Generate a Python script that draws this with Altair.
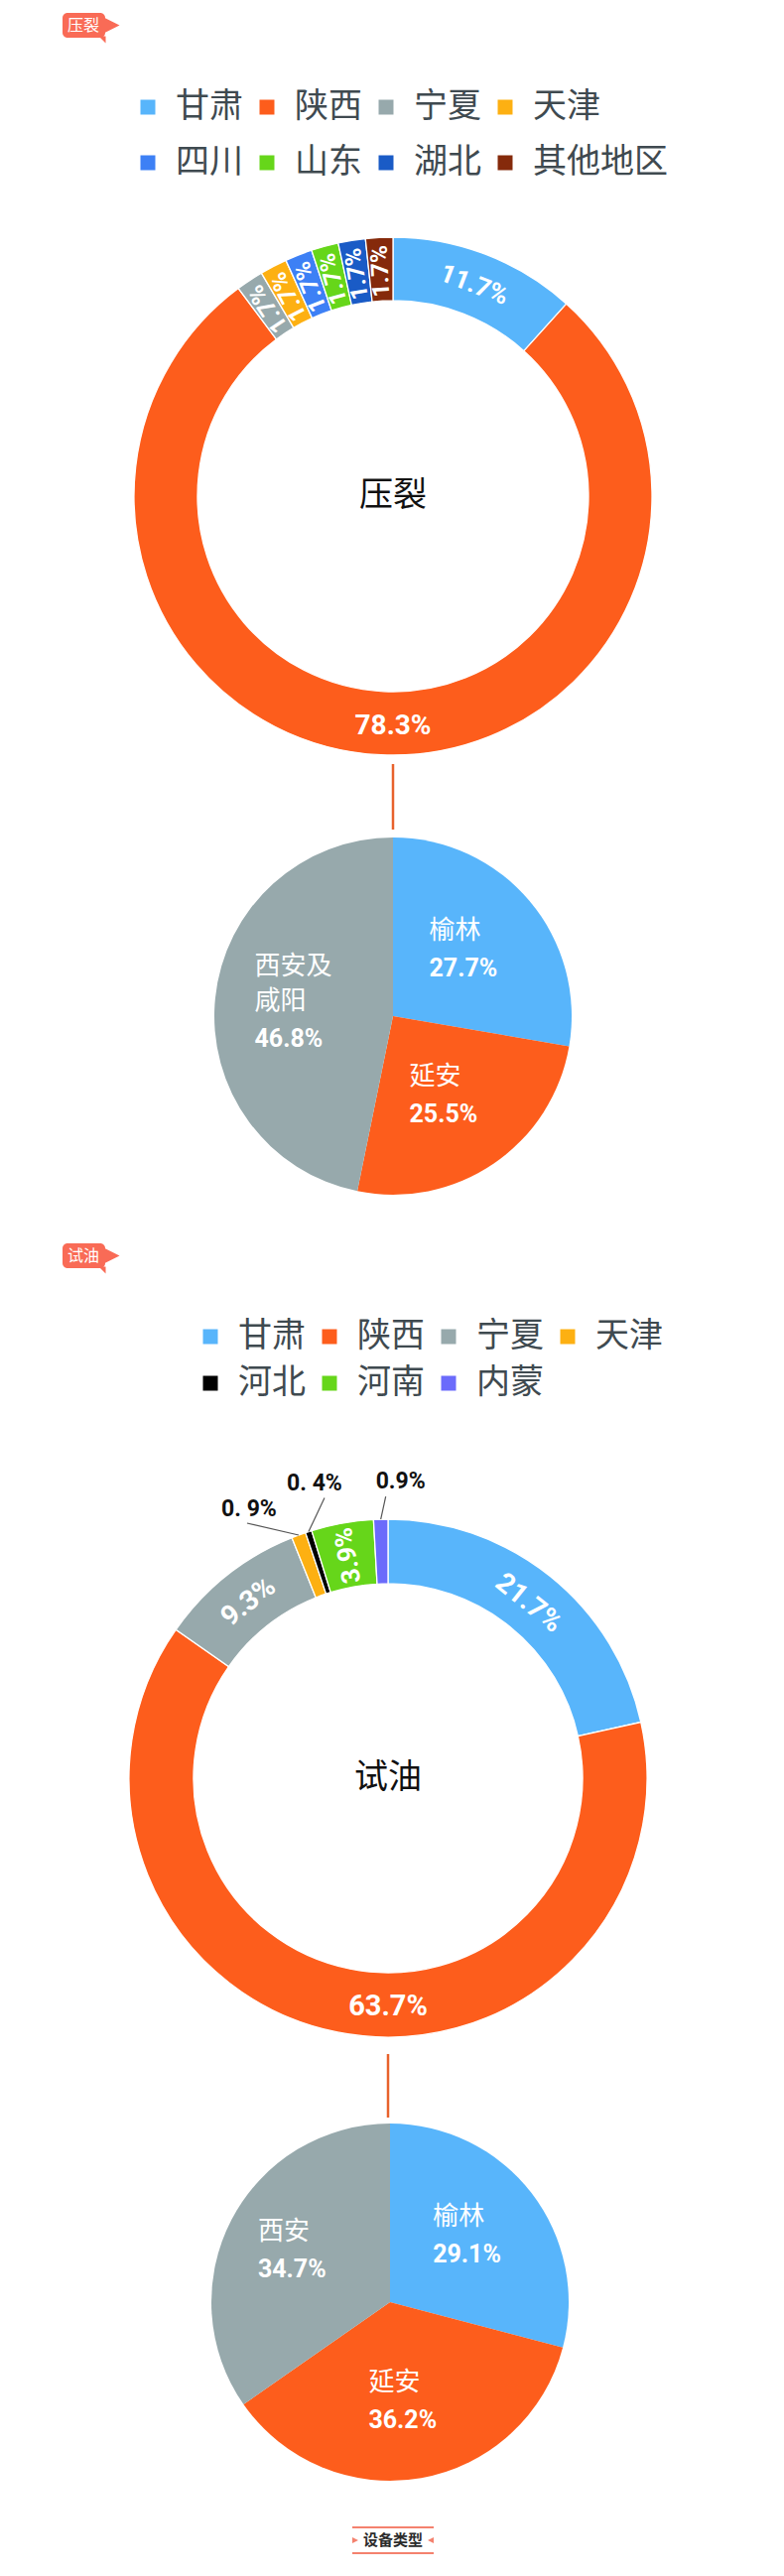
import math
import altair as alt
import pandas as pd

# ---------------- data ----------------
d1_regions = ["甘肃", "陕西", "宁夏", "天津", "四川", "山东", "湖北", "其他地区"]
d1_values = [11.7, 78.3, 1.7, 1.7, 1.7, 1.7, 1.7, 1.7]
d1_colors = ["#58B5FB", "#FD5D1C", "#97A9AC", "#FDB012", "#3D80F5", "#66D61A", "#1A5BC6", "#852A0B"]

p1_cities = ["榆林", "延安", "西安及\n咸阳"]
p1_values = [27.7, 25.5, 46.8]

d2_regions = ["甘肃", "陕西", "宁夏", "天津", "河北", "河南", "内蒙"]
d2_values = [21.7, 63.7, 9.3, 0.9, 0.4, 3.9, 0.9]
d2_labels = ["21.7%", "63.7%", "9.3%", "0. 9%", "0. 4%", "3.9%", "0.9%"]
d2_colors = ["#58B5FB", "#FD5D1C", "#97A9AC", "#FDB012", "#000000", "#66D61A", "#6B6BFB"]

p2_cities = ["榆林", "延安", "西安"]
p2_values = [29.1, 36.2, 34.7]
city_colors = ["#58B5FB", "#FD5D1C", "#97A9AC"]

# ---------------- layout / style ----------------
CJK = "Noto Sans CJK SC"
NUM = "Roboto"
TAG = "#F96B56"
LINE = "#E8622C"
LEG_TXT = "#3F4A50"

D1 = (396, 500); D1_R, D1_r = 261, 197
P1 = (396, 1024); P_R = 180
D2 = (391, 1792); D2_R, D2_r = 261, 196
P2 = (393, 2320)
LH = 35  # line height of city labels

d1_modes = ["tangent", "bottom", "radial", "radial", "radial", "radial", "radial", "radial"]
d2_modes = ["tangent", "bottom", "tangent", "out", "out", "radial", "out"]
# callout layout for tiny slices: (leader end offset, label offset) from slice edge point
callout_layout = {"天津": ((-52, -12), (-50, -26)), "河北": ((16, -34), (6, -49)), "内蒙": ((5, -23), (20, -38))}

XS = alt.Scale(domain=[8, 782], nice=False, zero=False)
YS = alt.Scale(domain=[8, 2588], reverse=True, nice=False, zero=False)
TH = alt.Scale(domain=[0, 1], range=[0, 2 * math.pi])


def build(names, values, colors, center, labels=None, modes=None):
    total = sum(values)
    cum = 0.0
    rows = []
    for i, (n, v, c) in enumerate(zip(names, values, colors)):
        t0 = cum / total
        cum += v
        t1 = cum / total
        mid = (t0 + t1) / 2
        deg = mid * 360
        mode = modes[i] if modes else "none"
        lab_t = mid
        if mode == "tangent":
            rot = deg % 360
        elif mode == "radial":
            rot = (deg - 90) % 360
        elif mode == "bottom":
            rot = 0
            lab_t = 0.5  # big label sits at the bottom of the ring, horizontal
        else:
            rot = 0
        rows.append({
            "name": n, "value": v, "color": c, "order": i,
            "t0": t0, "t1": t1, "mid": mid, "lab_t": lab_t, "deg": deg, "rot": rot, "mode": mode,
            "cx": center[0], "cy": center[1], "nlines": n.count("\n") + 1,
            "label": labels[i] if labels else f"{v}%",
        })
    return pd.DataFrame(rows)


df_d1 = build(d1_regions, d1_values, d1_colors, D1, modes=d1_modes)
df_p1 = build(p1_cities, p1_values, city_colors, P1)
df_d2 = build(d2_regions, d2_values, d2_colors, D2, labels=d2_labels, modes=d2_modes)
df_p2 = build(p2_cities, p2_values, city_colors, P2)

X = lambda f: alt.X(f, scale=XS, axis=None)
Y = lambda f: alt.Y(f, scale=YS, axis=None)


def legend(lx, ly, rowpad):
    return alt.Legend(orient="none", legendX=lx, legendY=ly, direction="horizontal", columns=4,
                      symbolType="square", symbolSize=225, symbolStrokeWidth=0, symbolOpacity=1,
                      labelFontSize=34, labelFont=CJK, labelColor=LEG_TXT, labelOffset=11,
                      columnPadding=7, rowPadding=rowpad, title=None, labelLimit=400, padding=0)


def donut(df, R, r, leg):
    return alt.Chart(df).mark_arc(outerRadius=R, innerRadius=r, stroke="white", strokeWidth=1.3).encode(
        x=X("cx:Q"), y=Y("cy:Q"),
        theta=alt.Theta("t0:Q", scale=TH, stack=False), theta2="t1:Q",
        color=alt.Color("name:N", sort=list(df.name),
                        scale=alt.Scale(domain=list(df.name), range=list(df.color)), legend=leg),
    )


def pie(df):
    return alt.Chart(df).mark_arc(outerRadius=P_R, innerRadius=0).encode(
        x=X("cx:Q"), y=Y("cy:Q"),
        theta=alt.Theta("t0:Q", scale=TH, stack=False), theta2="t1:Q",
        color=alt.Color("color:N", scale=None),
    )


def slice_text(df, radius, size):
    return alt.Chart(df).mark_text(radius=radius, font=NUM, fontSize=size, fontWeight="bold",
                                   color="white", align="center", baseline="middle").encode(
        x=X("cx:Q"), y=Y("cy:Q"),
        theta=alt.Theta("lab_t:Q", scale=TH, stack=False),
        angle=alt.Angle("rot:Q", scale=None),
        text="label:N",
    )


def pie_text(df, radius):
    out = []
    for n in sorted(df["nlines"].unique()):
        sub = df[df["nlines"] == n]
        top = -(n + 1) * LH / 2
        out.append(alt.Chart(sub).mark_text(
            radius=radius, font=CJK, fontSize=26, color="white", align="left",
            dx=-40, dy=top, baseline="top", lineBreak="\n", lineHeight=LH).encode(
            x=X("cx:Q"), y=Y("cy:Q"), theta=alt.Theta("mid:Q", scale=TH, stack=False), text="name:N"))
        out.append(alt.Chart(sub).mark_text(
            radius=radius, font=NUM, fontSize=25, fontWeight="bold", color="white",
            align="left", dx=-40, dy=top + n * LH + 4, baseline="top").encode(
            x=X("cx:Q"), y=Y("cy:Q"), theta=alt.Theta("mid:Q", scale=TH, stack=False), text="label:N"))
    return out


def center_text(txt, c):
    return alt.Chart(pd.DataFrame({"x": [c[0]], "y": [c[1]], "t": [txt]})).mark_text(
        font=CJK, fontSize=34, color="#111111", baseline="middle").encode(x=X("x:Q"), y=Y("y:Q"), text="t:N")


# callouts for tiny slices of donut 2
co_rows = []
for _, row in df_d2[df_d2["mode"] == "out"].iterrows():
    a = math.radians(row["deg"])
    px = D2[0] + D2_R * math.sin(a)
    py = D2[1] - D2_R * math.cos(a)
    (lx, ly), (tx, ty) = callout_layout[row["name"]]
    co_rows.append({"x": px, "y": py, "x2": px + lx, "y2": py + ly,
                    "tx": px + tx, "ty": py + ty, "label": row["label"]})
df_co = pd.DataFrame(co_rows)
leaders = alt.Chart(df_co).mark_rule(color="#555555", strokeWidth=1.2).encode(
    x=X("x:Q"), y=Y("y:Q"), x2="x2:Q", y2="y2:Q")
co_text = alt.Chart(df_co).mark_text(font=NUM, fontSize=23, fontWeight="bold", color="#111111",
                                     baseline="middle").encode(x=X("tx:Q"), y=Y("ty:Q"), text="label:N")

# connectors between donut and city pie
df_conn = pd.DataFrame({
    "x": [D1[0], D2[0]],
    "y": [D1[1] + D1_R + 9, D2[1] + D2_R + 17],
    "y2": [P1[1] - P_R - 8, P2[1] - P_R - 6],
})
conn = alt.Chart(df_conn).mark_rule(color=LINE, strokeWidth=2.5).encode(x=X("x:Q"), y=Y("y:Q"), y2="y2:Q")

# section tags
df_tags = pd.DataFrame({"x": [63, 63], "x2": [106, 106], "y": [13, 1253], "y2": [38, 1278],
                        "ax": [108, 108], "ay": [25.5, 1265.5], "nx": [103, 103], "ny": [40, 1280],
                        "tx": [84, 84], "t": ["压裂", "试油"]})
tag_body = alt.Chart(df_tags).mark_rect(color=TAG, cornerRadius=5).encode(
    x=X("x:Q"), x2="x2:Q", y=Y("y:Q"), y2="y2:Q")
tag_arrow = alt.Chart(df_tags).mark_point(shape="M-1,-1L1,0L-1,1Z", filled=True, size=625, opacity=1,
                                          color=TAG, strokeWidth=0).encode(x=X("ax:Q"), y=Y("ay:Q"))
tag_notch = alt.Chart(df_tags).mark_point(shape="M-1,-1L1,-1L1,1Z", filled=True, size=49, opacity=1,
                                          color=TAG, strokeWidth=0).encode(x=X("nx:Q"), y=Y("ny:Q"))
tag_text = alt.Chart(df_tags).mark_text(font=CJK, fontSize=16, color="white", baseline="middle").encode(
    x=X("tx:Q"), y=Y("ay:Q"), text="t:N")

# bottom "设备类型" badge
df_badge_lines = pd.DataFrame({"x": [355, 355], "x2": [437, 437], "y": [2547, 2573]})
badge_lines = alt.Chart(df_badge_lines).mark_rule(color="#F4826E", strokeWidth=2).encode(
    x=X("x:Q"), x2="x2:Q", y=Y("y:Q"))
df_badge = pd.DataFrame({"x": [396], "y": [2560], "lx": [358], "rx": [434], "t": ["设备类型"]})
badge_l = alt.Chart(df_badge).mark_point(shape="M-1,-1L1,0L-1,1Z", filled=True, size=36, opacity=1,
                                         color="#F4826E", strokeWidth=0).encode(x=X("lx:Q"), y=Y("y:Q"))
badge_r = alt.Chart(df_badge).mark_point(shape="M1,-1L-1,0L1,1Z", filled=True, size=36, opacity=1,
                                         color="#F4826E", strokeWidth=0).encode(x=X("rx:Q"), y=Y("y:Q"))
badge_t = alt.Chart(df_badge).mark_text(font=CJK, fontSize=15, fontWeight="bold", color="#2B2B2B",
                                        baseline="middle").encode(x=X("x:Q"), y=Y("y:Q"), text="t:N")

layers = [
    tag_body, tag_arrow, tag_notch, tag_text,
    donut(df_d1, D1_R, D1_r, legend(124, 83, 22)),
    slice_text(df_d1[df_d1["mode"] == "tangent"], 228, 26),
    slice_text(df_d1[df_d1["mode"] == "bottom"], 232, 28),
    slice_text(df_d1[df_d1["mode"] == "radial"], 227, 24),
    center_text("压裂", D1),
    conn,
    pie(df_p1), *pie_text(df_p1, 100),
    donut(df_d2, D2_R, D2_r, legend(187, 1322, 13)),
    slice_text(df_d2[df_d2["mode"] == "tangent"], 226, 28),
    slice_text(df_d2[df_d2["mode"] == "bottom"], 230, 29),
    slice_text(df_d2[df_d2["mode"] == "radial"], 228, 26),
    leaders, co_text,
    center_text("试油", D2),
    pie(df_p2), *pie_text(df_p2, 105),
    badge_lines, badge_l, badge_r, badge_t,
]

chart = alt.layer(*layers).resolve_scale(color="independent").properties(
    width=774, height=2580, padding=0, background="white",
    autosize=alt.AutoSizeParams(type="none"),
).configure_view(stroke="transparent")

chart.save("out.html", embed_options={"renderer": "svg", "actions": False})
